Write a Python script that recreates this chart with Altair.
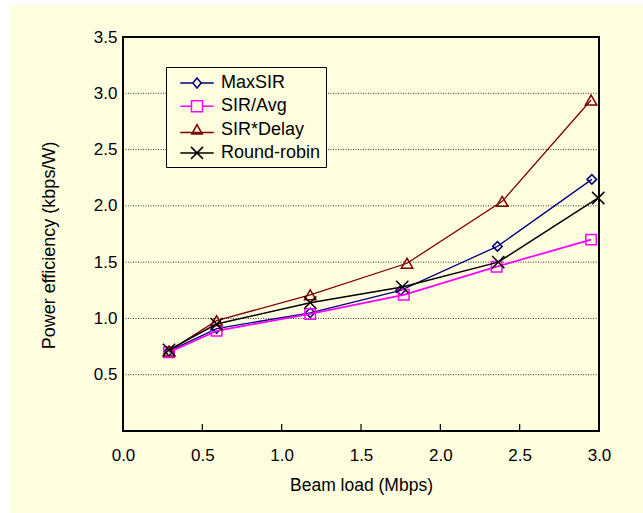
import altair as alt
import pandas as pd

# ---- data ----
series_names = ["MaxSIR", "SIR/Avg", "SIR*Delay", "Round-robin"]

maxsir_x = [0.29, 0.59, 1.18, 1.75, 2.36, 2.955]
maxsir_y = [0.71, 0.91, 1.05, 1.25, 1.64, 2.235]

sirgavg_x = [0.29, 0.59, 1.18, 1.77, 2.355, 2.95]
siravg_y = [0.70, 0.89, 1.04, 1.21, 1.46, 1.70]

sirdelay_x = [0.29, 0.59, 1.18, 1.79, 2.39, 2.95]
sirdelay_y = [0.71, 0.98, 1.21, 1.49, 2.04, 2.94]

rr_x = [0.29, 0.59, 1.18, 1.76, 2.365, 2.995]
rr_y = [0.72, 0.95, 1.14, 1.28, 1.50, 2.07]

x_ticks = [0.0, 0.5, 1.0, 1.5, 2.0, 2.5, 3.0]
y_ticks = [0.5, 1.0, 1.5, 2.0, 2.5, 3.0, 3.5]
inner_ticks = [0.5, 1.0, 1.5, 2.0, 2.5]

colors = ["#000080", "#FF00FF", "#800000", "#000000"]
plot_shapes = ["diamond", "square", "triangle-up", "M-1,-1L1,1M1,-1L-1,1"]
plot_sizes = [90, 110, 130, 150]
line_widths = [1.3, 1.8, 1.3, 1.5]
legend_paths = [
    "M-1.67,0L-0.42,0M0.42,0L1.67,0M-0.42,0L0,-0.5L0.42,0L0,0.5Z",
    "M-1.67,0L-0.55,0M0.55,0L1.67,0M-0.55,-0.55L0.55,-0.55L0.55,0.55L-0.55,0.55Z",
    "M-1.67,0.3L1.67,0.3M0,-0.5L0.52,0.45L-0.52,0.45Z",
    "M-1.67,0L1.67,0M-0.6,-0.6L0.6,0.6M0.6,-0.6L-0.6,0.6",
]

BG = "#FFFFE0"
W, H = 476, 394

xs = [maxsir_x, sirgavg_x, sirdelay_x, rr_x]
ys = [maxsir_y, siravg_y, sirdelay_y, rr_y]

xscale = alt.Scale(domain=[0, 3], nice=False, zero=False)
yscale = alt.Scale(domain=[0, 3.5], nice=False, zero=False)

font = "Liberation Sans"

one = pd.DataFrame({"a": [0]})
background = alt.Chart(one).mark_rect(color=BG, clip=False).encode(
    x=alt.value(-113), x2=alt.value(520), y=alt.value(-32), y2=alt.value(476)
)

grid_df = pd.DataFrame({"y": y_ticks[:-1]})
grid = alt.Chart(grid_df).mark_rule(
    color="#333333", strokeDash=[1, 1.5], strokeWidth=1
).encode(
    y=alt.Y("y:Q", scale=yscale),
    x=alt.value(0), x2=alt.value(W),
)

tick_df = pd.DataFrame({"x": inner_ticks})
inner = alt.Chart(tick_df).mark_rule(color="black", strokeWidth=1.2).encode(
    x=alt.X("x:Q", scale=xscale),
    y=alt.value(H), y2=alt.value(H - 7),
)

layers = [background, grid, inner]

for i, name in enumerate(series_names):
    df = pd.DataFrame({"x": xs[i], "y": ys[i]})
    base = alt.Chart(df)
    line = base.mark_line(color=colors[i], strokeWidth=line_widths[i]).encode(
        x=alt.X("x:Q", scale=xscale),
        y=alt.Y("y:Q", scale=yscale),
    )
    pts = base.mark_point(
        shape=plot_shapes[i], color=colors[i], filled=False,
        size=plot_sizes[i], strokeWidth=1.5, opacity=1,
    ).encode(
        x=alt.X("x:Q", scale=xscale),
        y=alt.Y("y:Q", scale=yscale),
    )
    layers += [line, pts]

frame = alt.Chart(one).mark_rect(
    fill=None, fillOpacity=0, stroke="black", strokeWidth=2, clip=False
).encode(x=alt.value(0), x2=alt.value(W), y=alt.value(0), y2=alt.value(H))
layers.append(frame)

leg_kwargs = dict(
    title=None, orient="none", legendX=43, legendY=30,
    symbolSize=400, symbolStrokeWidth=1.5, symbolOffset=15,
    labelOffset=13, rowPadding=3.3, padding=5,
    strokeColor="black", fillColor=BG,
    labelFont=font, labelFontSize=18, labelColor="black",
    symbolFillColor="transparent", zindex=2,
)
leg_df = pd.DataFrame({"series": series_names})
legend_layer = alt.Chart(leg_df).mark_point(
    filled=False, clip=True, strokeWidth=1.5, opacity=1
).encode(
    x=alt.value(-1000), y=alt.value(-1000),
    color=alt.Color(
        "series:N",
        scale=alt.Scale(domain=series_names, range=colors),
        legend=alt.Legend(**leg_kwargs),
    ),
    shape=alt.Shape(
        "series:N",
        scale=alt.Scale(domain=series_names, range=legend_paths),
        legend=alt.Legend(**leg_kwargs),
    ),
)
layers.append(legend_layer)

chart = alt.layer(*layers).encode(
    x=alt.X(
        "x:Q", scale=xscale,
        axis=alt.Axis(
            values=x_ticks, format=".1f", title="Beam load (Mbps)",
            grid=False, ticks=False, labelPadding=16, titlePadding=13,
            domain=False, zindex=1, titleFontSize=17.5, labelFlush=False,
        ),
    ),
    y=alt.Y(
        "y:Q", scale=yscale,
        axis=alt.Axis(
            values=y_ticks, format=".1f", title="Power efficiency (kbps/W)",
            grid=False, ticks=False, labelPadding=6, titlePadding=35,
            domain=False, zindex=1, titleFontSize=18, titleY=208,
            labelFlush=False,
        ),
    ),
).properties(
    width=W, height=H,
    background="white",
    padding={"left": 123, "top": 37, "right": 44, "bottom": 82},
    autosize=alt.AutoSizeParams(type="none"),
).configure_view(
    stroke=None, fill=BG,
).configure_axis(
    labelFont=font, labelFontSize=17, labelColor="black",
    titleFont=font, titleFontWeight="normal", titleColor="black",
)

chart.save("out.html", embed_options={"renderer": "svg", "actions": False})
